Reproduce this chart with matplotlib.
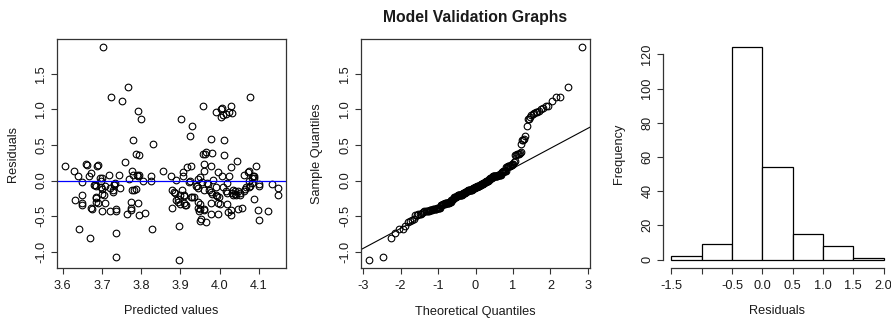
import numpy as np
import matplotlib
matplotlib.use("Agg")
import matplotlib.pyplot as plt
from statistics import NormalDist

plt.rcParams["font.family"] = ["Liberation Sans", "DejaVu Sans"]
plt.rcParams["axes.unicode_minus"] = False

# Fitted values and residuals of the model (one pair per observation)
fitted = [
    # large residuals
    3.703, 3.766, 3.724, 4.077, 3.752, 3.957, 4.029, 4.007, 4.004,
    3.791, 3.990, 4.024, 4.031, 4.017, 4.004, 4.010, 3.903, 3.800, 3.930,
    3.924, 3.978, 3.779, 4.011, 3.830,
    # large negative residuals
    3.736, 3.896, 3.642, 3.670, 3.737, 3.829, 3.896, 3.949, 3.954, 3.965, 4.101,
    # small positive residuals
    3.607, 3.629, 3.638, 3.659, 3.661, 3.666, 3.671, 3.688, 3.690, 3.695, 3.719,
    3.744, 3.758, 3.770, 3.776, 3.778, 3.787, 3.794, 3.790, 3.792, 3.795, 3.824,
    3.856, 3.875, 3.889, 3.906, 3.908, 3.917, 3.928, 3.946, 3.949, 3.958, 3.962,
    3.966, 3.960, 3.961, 3.978, 3.982, 3.984,
    3.995, 4.007, 4.011, 4.025, 4.030, 4.045, 4.062, 4.072, 4.074, 4.085, 4.087,
    4.089, 4.092, 3.700, 4.083,
    # small negative residuals
    3.649, 3.631, 3.649, 3.650, 3.649, 3.673, 3.675, 3.679, 3.682, 3.686, 3.686,
    3.691, 3.685, 3.697, 3.698, 3.700, 3.700, 3.700, 3.705, 3.709, 3.709, 3.727,
    3.729, 3.731, 3.734, 3.732, 3.737, 3.735, 3.721, 3.747, 3.763, 3.773, 3.773,
    3.775, 3.776, 3.781, 3.788, 3.791, 3.794, 3.805, 3.809, 3.825,
    3.878, 3.880, 3.883, 3.887, 3.890, 3.895, 3.898, 3.904, 3.900, 3.909, 3.910,
    3.910, 3.912, 3.915, 3.921, 3.924, 3.926, 3.931, 3.936, 3.939, 3.945, 3.950,
    3.948, 3.946, 3.950, 3.945, 3.956, 3.961, 3.960, 3.960, 3.967, 3.970, 3.972,
    3.978, 3.980, 3.978, 3.978,
    3.990, 3.991, 3.993, 3.995, 3.997, 3.999, 4.000, 4.009, 4.016, 4.018, 4.019,
    4.019, 4.021, 4.030, 4.030, 4.033, 4.035, 4.035, 4.040, 4.043, 4.047, 4.048,
    4.052, 4.053, 4.058, 4.063, 4.065, 4.068, 4.074, 4.075, 4.079, 4.082, 4.089,
    4.099, 4.100, 4.102, 4.123, 4.133, 4.148, 4.148,
    3.685, 3.720, 3.893, 3.943, 4.040,
]

residuals = [
    1.87, 1.31, 1.18, 1.17, 1.12, 1.05, 1.05, 1.02, 1.01,
    0.98, 0.96, 0.97, 0.95, 0.94, 0.90, 0.92, 0.87, 0.86, 0.76,
    0.63, 0.58, 0.57, 0.57, 0.52,
    -1.07, -1.11, -0.68, -0.81, -0.74, -0.68, -0.64, -0.57, -0.54, -0.58, -0.56,
    0.21, 0.13, 0.06, 0.23, 0.22, 0.07, 0.10, 0.21, 0.22, 0.04, 0.08,
    0.08, 0.26, 0.02, 0.14, 0.08, 0.38, 0.36, 0.08, 0.07, 0.08, 0.07,
    0.13, 0.07, 0.01, 0.12, 0.07, 0.19, 0.20, 0.02, 0.05, 0.37, 0.38,
    0.40, 0.23, 0.13, 0.21, 0.39, 0.01,
    0.12, 0.07, 0.36, 0.07, 0.19, 0.28, 0.08, 0.12, 0.13, 0.06, 0.04,
    0.07, 0.20, 0.03, 0.04,
    -0.02, -0.28, -0.21, -0.31, -0.35, -0.38, -0.40, -0.06, -0.06, -0.07, -0.23,
    -0.31, -0.30, -0.01, -0.09, -0.12, -0.43, -0.19, -0.21, -0.32, -0.07, -0.16,
    -0.14, -0.05, -0.03, -0.06, -0.40, -0.43, -0.43, -0.11, -0.47, -0.38, -0.42,
    -0.30, -0.14, -0.14, -0.12, -0.32, -0.48, -0.01, -0.45, -0.01,
    -0.38, -0.14, -0.16, -0.17, -0.28, -0.30, -0.33, -0.14, -0.21, -0.20, -0.22,
    -0.32, -0.35, -0.35, -0.02, -0.01, -0.23, -0.23, -0.23, -0.07, -0.38, -0.40,
    -0.43, -0.30, -0.33, -0.11, -0.02, -0.13, -0.40, -0.42, -0.03, -0.05, -0.14,
    -0.16, -0.19, -0.31, -0.47,
    -0.09, -0.20, -0.22, -0.47, -0.31, -0.23, -0.33, -0.09, -0.15, -0.18, -0.03,
    -0.33, -0.44, -0.42, -0.49, -0.17, -0.21, -0.14, -0.15, -0.21, -0.15, -0.40,
    -0.21, -0.18, -0.39, -0.15, -0.12, -0.09, -0.01, -0.09, -0.07, -0.04, -0.26,
    -0.42, -0.05, -0.07, -0.43, -0.05, -0.10, -0.21,
    -0.25, -0.10, -0.26, -0.08, -0.19,
]

hist_breaks = [-1.5, -1.0, -0.5, 0.0, 0.5, 1.0, 1.5, 2.0]
hist_tick_labels = ["-1.5", "", "-0.5", "0.0", "0.5", "1.0", "1.5", "2.0"]

fitted = np.asarray(fitted)
residuals = np.asarray(residuals)

TXT = "#1a1a1a"
FS = 9.2


def style_axes(ax, box=True):
    for s in ax.spines.values():
        s.set_linewidth(0.9)
        s.set_color("#333333")
        s.set_visible(box)
    ax.tick_params(direction="out", length=4.0, width=0.8, color="#333333",
                   labelsize=FS, labelcolor=TXT, pad=4.5)
    ax.tick_params(axis="y", pad=3)
    for lbl in ax.get_yticklabels():
        lbl.set_rotation(90)
        lbl.set_va("center")


fig = plt.figure(figsize=(8.91, 3.2), dpi=100)
W, H = 891.0, 320.0
top, bottom = 39.0, 268.0
pw = 229.0


def make_axes(x0):
    return fig.add_axes([x0 / W, (H - bottom) / H, pw / W, (bottom - top) / H])


def labels(ax, xl, yl):
    ax.set_xlabel(xl, fontsize=FS, color=TXT)
    ax.set_ylabel(yl, fontsize=FS, color=TXT)
    ax.xaxis.set_label_coords(0.5, -(311.5 - bottom) / (bottom - top))
    ax.yaxis.set_label_coords(-0.19, 0.5)
    ax.xaxis.label.set_va("center")
    ax.yaxis.label.set_va("center")


# Residuals vs fitted
ax1 = make_axes(57)
ax1.plot(fitted, residuals, "o", mfc="none", mec="black", ms=4.8, mew=0.8)
ax1.axhline(0, color="#0000ff", lw=0.9)
xr = fitted.max() - fitted.min()
yr = residuals.max() - residuals.min()
ax1.set_xlim(fitted.min() - 0.04 * xr, fitted.max() + 0.04 * xr)
ax1.set_ylim(residuals.min() - 0.04 * yr, residuals.max() + 0.04 * yr)
ax1.set_xticks([3.6, 3.7, 3.8, 3.9, 4.0, 4.1])
ax1.set_xticklabels(["3.6", "3.7", "3.8", "3.9", "4.0", "4.1"])
ax1.set_yticks([-1.0, -0.5, 0.0, 0.5, 1.0, 1.5])
ax1.set_yticklabels(["-1.0", "-0.5", "0.0", "0.5", "1.0", "1.5"])
style_axes(ax1)
labels(ax1, "Predicted values", "Residuals")

# Normal Q-Q plot
n = len(residuals)
nd = NormalDist()
probs = (np.arange(1, n + 1) - 0.5) / n
theo = np.array([nd.inv_cdf(p) for p in probs])
samp = np.sort(residuals)
ax2 = make_axes(361)
ax2.plot(theo, samp, "o", mfc="none", mec="black", ms=4.8, mew=0.8)
q = np.quantile(residuals, [0.25, 0.75])
zq = np.array([nd.inv_cdf(0.25), nd.inv_cdf(0.75)])
slope = (q[1] - q[0]) / (zq[1] - zq[0])
icpt = q[0] - slope * zq[0]
ax2.axline((0, icpt), slope=slope, color="black", lw=0.8)
tr = theo.max() - theo.min()
ax2.set_xlim(theo.min() - 0.04 * tr, theo.max() + 0.04 * tr)
ax2.set_ylim(samp.min() - 0.04 * yr, samp.max() + 0.04 * yr)
ax2.set_xticks([-3, -2, -1, 0, 1, 2, 3])
ax2.set_xticklabels(["-3", "-2", "-1", "0", "1", "2", "3"])
ax2.set_yticks([-1.0, -0.5, 0.0, 0.5, 1.0, 1.5])
ax2.set_yticklabels(["-1.0", "-0.5", "0.0", "0.5", "1.0", "1.5"])
style_axes(ax2)
labels(ax2, "Theoretical Quantiles", "Sample Quantiles")
ax2.text(0.5, 1 + (top - 17.5) / (bottom - top), "Model Validation Graphs",
         transform=ax2.transAxes, ha="center", va="center",
         fontsize=11.3, fontweight="bold", color=TXT)

# Histogram of residuals (right-closed bins, lowest included)
br = np.asarray(hist_breaks)
counts = []
for i in range(len(br) - 1):
    lo, hi = br[i], br[i + 1]
    if i == 0:
        m = (residuals >= lo) & (residuals <= hi)
    else:
        m = (residuals > lo) & (residuals <= hi)
    counts.append(int(m.sum()))
counts = np.array(counts)

ax3 = make_axes(663)
ax3.bar(br[:-1], counts, width=np.diff(br), align="edge",
        facecolor="white", edgecolor="black", linewidth=0.9)
bx = br[-1] - br[0]
ax3.set_xlim(br[0] - 0.04 * bx, br[-1] + 0.04 * bx)
ax3.set_ylim(-0.04 * counts.max(), counts.max() * 1.04)
ax3.set_xticks(hist_breaks)
ax3.set_xticklabels(hist_tick_labels)
ax3.set_yticks([0, 20, 40, 60, 80, 100, 120])
ax3.set_yticklabels(["0", "20", "40", "60", "80", "100", "120"])
style_axes(ax3, box=False)
ax3.spines["left"].set_visible(True)
ax3.spines["bottom"].set_visible(True)
ax3.spines["left"].set_bounds(0, 120)
ax3.spines["bottom"].set_bounds(br[0], br[-1])
labels(ax3, "Residuals", "Frequency")

fig.savefig("out.png", dpi=100)
